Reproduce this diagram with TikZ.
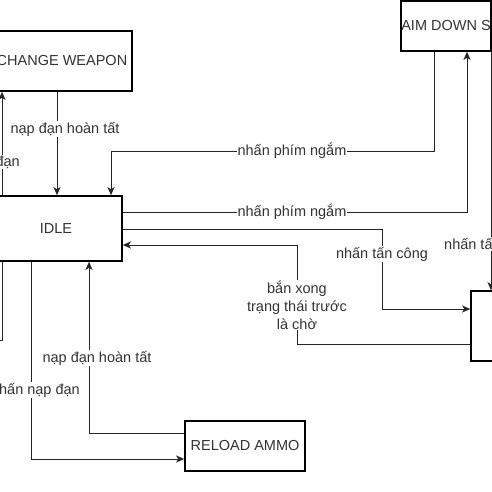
\documentclass[tikz,border=0pt]{standalone}
\usepackage{fontspec}
\setmainfont{Liberation Sans}
\usetikzlibrary{arrows.meta}
\begin{document}
\begin{tikzpicture}[x=1pt,y=-1pt,
  box/.style={draw=black,line width=1.6pt,fill=white,inner sep=0pt,text=black!80,font=\fontsize{14.5}{17}\selectfont},
  conn/.style={draw=black!85,line width=1pt},
  arr/.style={conn,-{Stealth[length=8pt,width=7pt,inset=2pt]}},
  lbl/.style={fill=white,inner sep=1pt,text=black!80,font=\fontsize{14.5}{18}\selectfont,align=center}]
\useasboundingbox (0,0) rectangle (492,492);
\clip (0,0) rectangle (492,492);
% boxes
\node[box,minimum width=140pt,minimum height=60pt] (cw) at (62,61) {CHANGE WEAPON};
\node[box,minimum width=132pt,minimum height=65pt] (idle) at (56,228.5) {IDLE};
\node[box,minimum width=90pt,minimum height=50pt] (aim) at (446,26) {AIM DOWN S};
\node[box,minimum width=40pt,minimum height=70pt] (atk) at (491,326) {};
\node[box,minimum width=120pt,minimum height=50pt] (rel) at (245,446) {RELOAD AMMO};
% connectors
\draw[arr] (57,0 |- cw.south) -- (57,0 |- idle.north);
\draw[arr] (2,0 |- idle.north) -- (2,0 |- cw.south);
\coordinate (offl) at (-10,340);
\draw[conn] (2,0 |- idle.south) -- (2,340) -- (offl);
\draw[arr] (31,0 |- idle.south) -- (31,459) -- (rel.west |- 0,459);
\draw[arr] (rel.west |- 0,433) -- (89,433) -- (89,0 |- idle.south);
\draw[arr] (434,0 |- aim.south) -- (434,151) -- (111,151) -- (111,0 |- idle.north);
\draw[arr] (idle.east |- 0,212) -- (467,212) -- (467,0 |- aim.south);
\draw[arr] (idle.east |- 0,229) -- (382,229) -- (382,309) -- (atk.west |- 0,309);
\draw[arr] (atk.west |- 0,344) -- (297,344) -- (297,245) -- (idle.east |- 0,245);
\draw[arr] (491,0 |- aim.south) -- (491,0 |- atk.north);
% labels
\node[lbl] (l1) at (65,129) {nạp đạn hoàn tất};
\node[lbl,anchor=east] (l2) at (21,162) {đạn};
\node[lbl,anchor=east] (l3) at (81,390) {nhấn nạp đạn};
\node[lbl] (l4) at (97,358) {nạp đạn hoàn tất};
\node[lbl] (l5) at (292,151) {nhấn phím ngắm};
\node[lbl] (l6) at (292,212) {nhấn phím ngắm};
\node[lbl] (l7) at (382,254) {nhấn tấn công};
\node[lbl] (l8) at (297,305) {bắn xong\\trạng thái trước\\là chờ};
\node[lbl,anchor=west] (l9) at (443,244) {nhấn tấ};
\end{tikzpicture}
\end{document}
